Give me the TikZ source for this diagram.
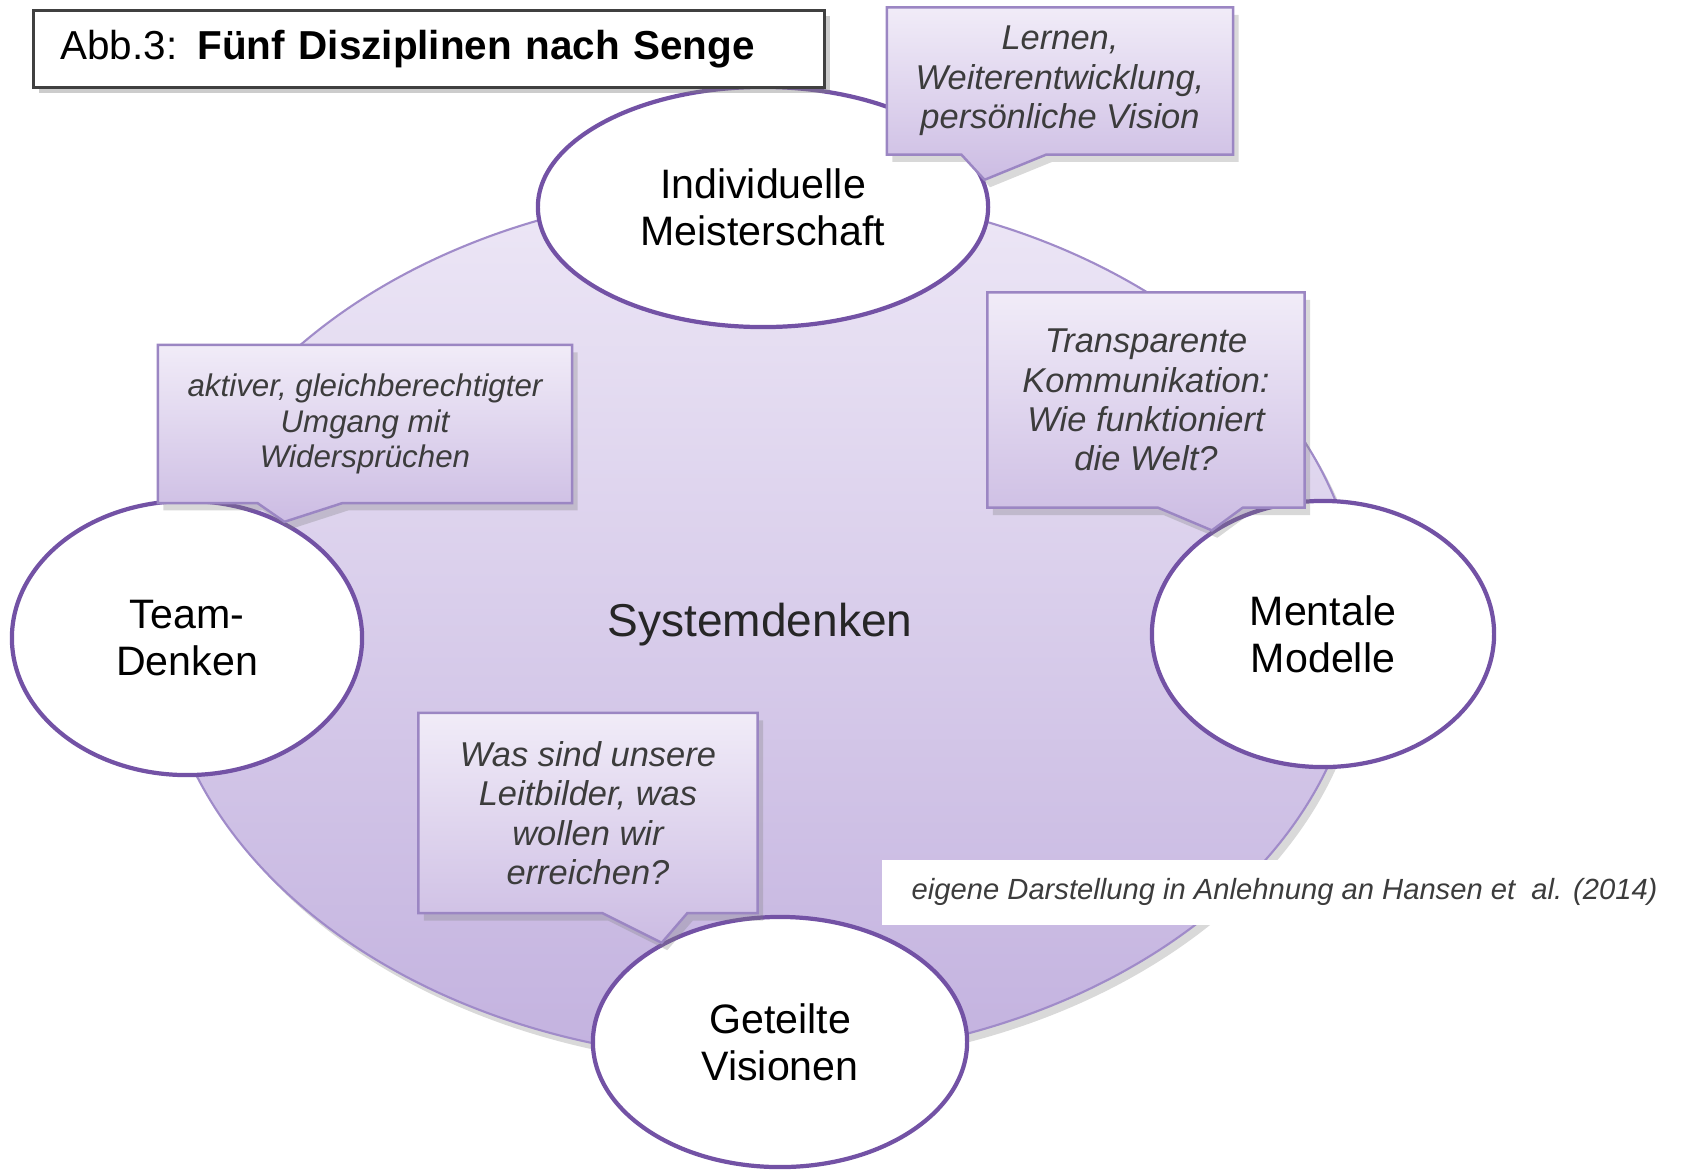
\documentclass[tikz,border=0pt]{standalone}
\usepackage{fontspec}
\setmainfont{Liberation Sans}
\usetikzlibrary{shapes.geometric,shapes.callouts,shadows}
\definecolor{kreisoben}{HTML}{EDE7F6}
\definecolor{kreisunten}{HTML}{C3B2DF}
\definecolor{kreisrand}{HTML}{A08BC9}
\definecolor{lilaline}{HTML}{7352A5}
\definecolor{boxoben}{HTML}{F1ECF8}
\definecolor{boxunten}{HTML}{CCBCE3}
\definecolor{boxrand}{HTML}{9B86C3}
\definecolor{textgrau}{HTML}{3C3C3C}
\begin{document}
\begin{tikzpicture}[x=0.01cm,y=-0.01cm,
  disz/.style={ellipse,draw=lilaline,line width=1.2pt,fill=white,align=center,
    inner sep=0pt,font=\fontsize{11.7}{13.4}\selectfont},
  hinweis/.style={rectangle callout,draw=boxrand,line width=0.7pt,
    top color=boxoben,bottom color=boxunten,align=center,text=textgrau,
    font=\itshape\fontsize{9.8}{11.2}\selectfont,callout pointer width=0.85cm,
    drop shadow={opacity=0.3,shadow xshift=0.3ex,shadow yshift=-0.4ex}}]
\useasboundingbox (0,0) rectangle (1691,1172);

\node[ellipse,draw=kreisrand,line width=0.6pt,top color=kreisoben,bottom color=kreisunten,
  minimum width=12cm,minimum height=8.7cm,text=black!85,font=\fontsize{13.1}{16}\selectfont,
  drop shadow={opacity=0.3,shadow xshift=0.3ex,shadow yshift=-0.4ex}] (sys) at (760,625) {Systemdenken};

\node[disz,minimum width=4.5cm,minimum height=2.4cm] (im) at (763,207) {Individuelle\\Meisterschaft};
\node[disz,minimum width=3.5cm,minimum height=2.74cm] (td) at (187,638) {Team-\\Denken};
\node[disz,minimum width=3.42cm,minimum height=2.66cm] (mm) at (1323,634) {Mentale\\Modelle};
\node[disz,minimum width=3.74cm,minimum height=2.5cm] (gv) at (780,1042) {Geteilte\\Visionen};

\node[hinweis,minimum width=3.46cm,minimum height=1.47cm,callout absolute pointer={(im.7)}]
  (h1) at (1060,81) {Lernen,\\Weiterentwicklung,\\persönliche Vision};
\node[hinweis,font=\itshape\fontsize{8.9}{10.2}\selectfont,minimum width=4.14cm,minimum height=1.58cm,
  callout absolute pointer={(td.50)}] (h2) at (365,424) {aktiver, gleichberechtigter\\Umgang mit\\Widersprüchen};
\node[hinweis,minimum width=3.17cm,minimum height=2.15cm,callout absolute pointer={(mm.137)}]
  (h3) at (1146,400) {Transparente\\Kommunikation:\\Wie funktioniert\\die Welt?};
\node[hinweis,minimum width=3.39cm,minimum height=2cm,callout absolute pointer={(gv.140)}]
  (h4) at (588,813) {Was sind unsere\\Leitbilder, was\\wollen wir\\erreichen?};

\node[anchor=west,fill=white,inner xsep=0.3cm,minimum height=0.65cm,
  text=textgrau,font=\itshape\fontsize{8.3}{10}\selectfont] (quelle) at (881,892)
  {eigene Darstellung in Anlehnung an Hansen et\ \ al. (2014)\hspace{1cm}};

\node[anchor=north west,draw=black!75,line width=0.8pt,fill=white,inner xsep=0.27cm,text width=7.37cm,
  align=left,minimum height=0.77cm,font=\fontsize{11.5}{14}\selectfont,
  drop shadow={opacity=0.4,shadow xshift=0.3ex,shadow yshift=-0.3ex}] (titel) at (32,9)
  {Abb.3: \textbf{Fünf Disziplinen nach Senge}};
\end{tikzpicture}
\end{document}
